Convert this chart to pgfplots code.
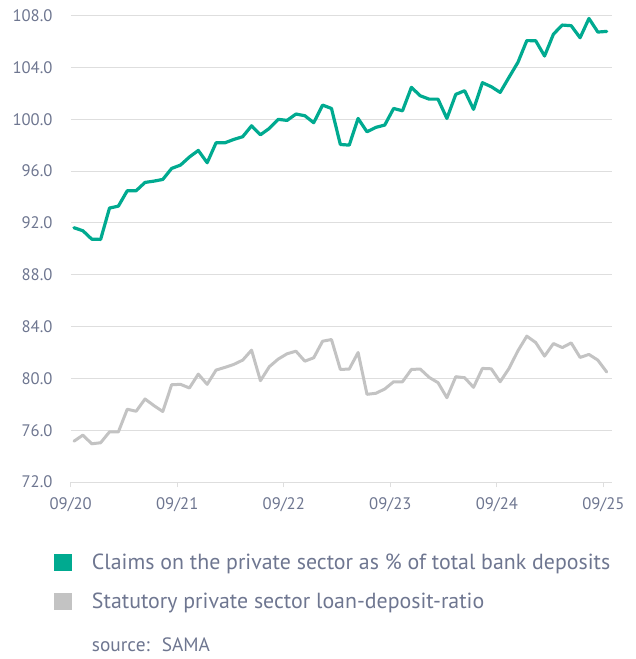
\documentclass[border=0pt]{standalone}
\usepackage{fontspec}
\setmainfont{PT Sans}
\usepackage{pgfplots}
\usepackage{pgfplotstable}
\pgfplotsset{compat=1.18}
\definecolor{claimgreen}{HTML}{00AA90}
\definecolor{ratiogray}{HTML}{C3C3C3}
\definecolor{labelc}{HTML}{6E7690}
\definecolor{gridc}{HTML}{DEDEDE}

\pgfplotstableread{
k v
0 91.63
1 91.40
2 90.75
3 90.73
4 93.15
5 93.30
6 94.49
7 94.49
8 95.13
9 95.23
10 95.36
11 96.21
12 96.47
13 97.09
14 97.60
15 96.65
16 98.19
17 98.19
18 98.45
19 98.66
20 99.50
21 98.81
22 99.30
23 100.00
24 99.92
25 100.41
26 100.28
27 99.74
28 101.10
29 100.84
30 98.06
31 98.01
32 100.07
33 99.04
34 99.38
35 99.56
36 100.84
37 100.66
38 102.47
39 101.82
40 101.56
41 101.56
42 100.07
43 101.93
44 102.21
45 100.77
46 102.83
47 102.52
48 102.08
49 103.25
50 104.40
51 106.08
52 106.07
53 104.89
54 106.58
55 107.28
56 107.23
57 106.30
58 107.79
59 106.74
60 106.79
}\claims

\pgfplotstableread{
k v
0 75.15
1 75.62
2 74.95
3 75.03
4 75.87
5 75.87
6 77.62
7 77.46
8 78.41
9 77.90
10 77.44
11 79.51
12 79.54
13 79.26
14 80.33
15 79.54
16 80.64
17 80.85
18 81.08
19 81.41
20 82.18
21 79.82
22 80.90
23 81.49
24 81.90
25 82.10
26 81.33
27 81.59
28 82.87
29 83.00
30 80.69
31 80.72
32 82.00
33 78.77
34 78.85
35 79.18
36 79.74
37 79.74
38 80.69
39 80.72
40 80.08
41 79.67
42 78.51
43 80.13
44 80.05
45 79.31
46 80.77
47 80.74
48 79.74
49 80.77
50 82.13
51 83.26
52 82.77
53 81.72
54 82.69
55 82.38
56 82.74
57 81.62
58 81.85
59 81.41
60 80.49
}\ratio

\begin{document}
\begin{tikzpicture}
\useasboundingbox (-53.03pt,-132.75pt) rectangle (423.22pt,361.5pt);
\begin{axis}[
  at={(0pt,0pt)}, anchor=south west,
  scale only axis,
  width=406.2pt, height=349.7pt,
  xmin=0, xmax=61,
  ymin=72, ymax=108,
  clip=false,
  axis x line*=bottom,
  axis y line*=left,
  y axis line style={draw=none},
  x axis line style={draw=gridc, line width=0.75pt},
  xtick={0,12,24,36,48,60},
  xticklabels={09/20,09/21,09/22,09/23,09/24,09/25},
  ytick={72,76,80,84,88,92,96,100,104,108},
  yticklabels={72.0,76.0,80.0,84.0,88.0,92.0,96.0,100.0,104.0,108.0},
  xtick align=outside,
  major tick length=3.75pt,
  xtick style={draw=gridc, line width=0.75pt},
  ytick style={draw=none},
  ymajorgrids=true,
  grid style={draw=gridc, line width=0.75pt},
  tick label style={font=\fontsize{12.5}{15}\selectfont, text=labelc},
  yticklabel style={inner sep=0pt, anchor=east, xshift=-13.5pt},
  xticklabel style={inner sep=0pt, anchor=north, yshift=-7.5pt},
  legend style={
    at={(axis description cs:-0.0321,-0.154)}, anchor=north west,
    draw=none, fill=none, inner sep=0pt,
    font=\fontsize{16.4}{19.5}\selectfont, text=labelc,
    row sep=16.3pt,
    nodes={inner sep=0pt},
    /tikz/every odd column/.append style={column sep=15pt},
  },
  legend cell align=left,
  legend image code/.code={\fill[#1,draw=none] (0pt,-5.9pt) rectangle (13.8pt,6.6pt);},
]
\addplot[color=claimgreen, line width=2.4pt, line join=round, line cap=round]
  table[x expr=\thisrow{k}+0.37, y=v] {\claims};
\addlegendentry{Claims on the private sector as \% of total bank deposits}
\addplot[color=ratiogray, line width=2.25pt, line join=round, line cap=round]
  table[x expr=\thisrow{k}+0.37, y=v] {\ratio};
\addlegendentry{Statutory private sector loan-deposit-ratio}
\node[anchor=west, inner sep=0pt, text=labelc, font=\fontsize{14.5}{17}\selectfont]
  at (axis description cs:0.0388,-0.350) {source:~ SAMA};
\end{axis}
\end{tikzpicture}
\end{document}
